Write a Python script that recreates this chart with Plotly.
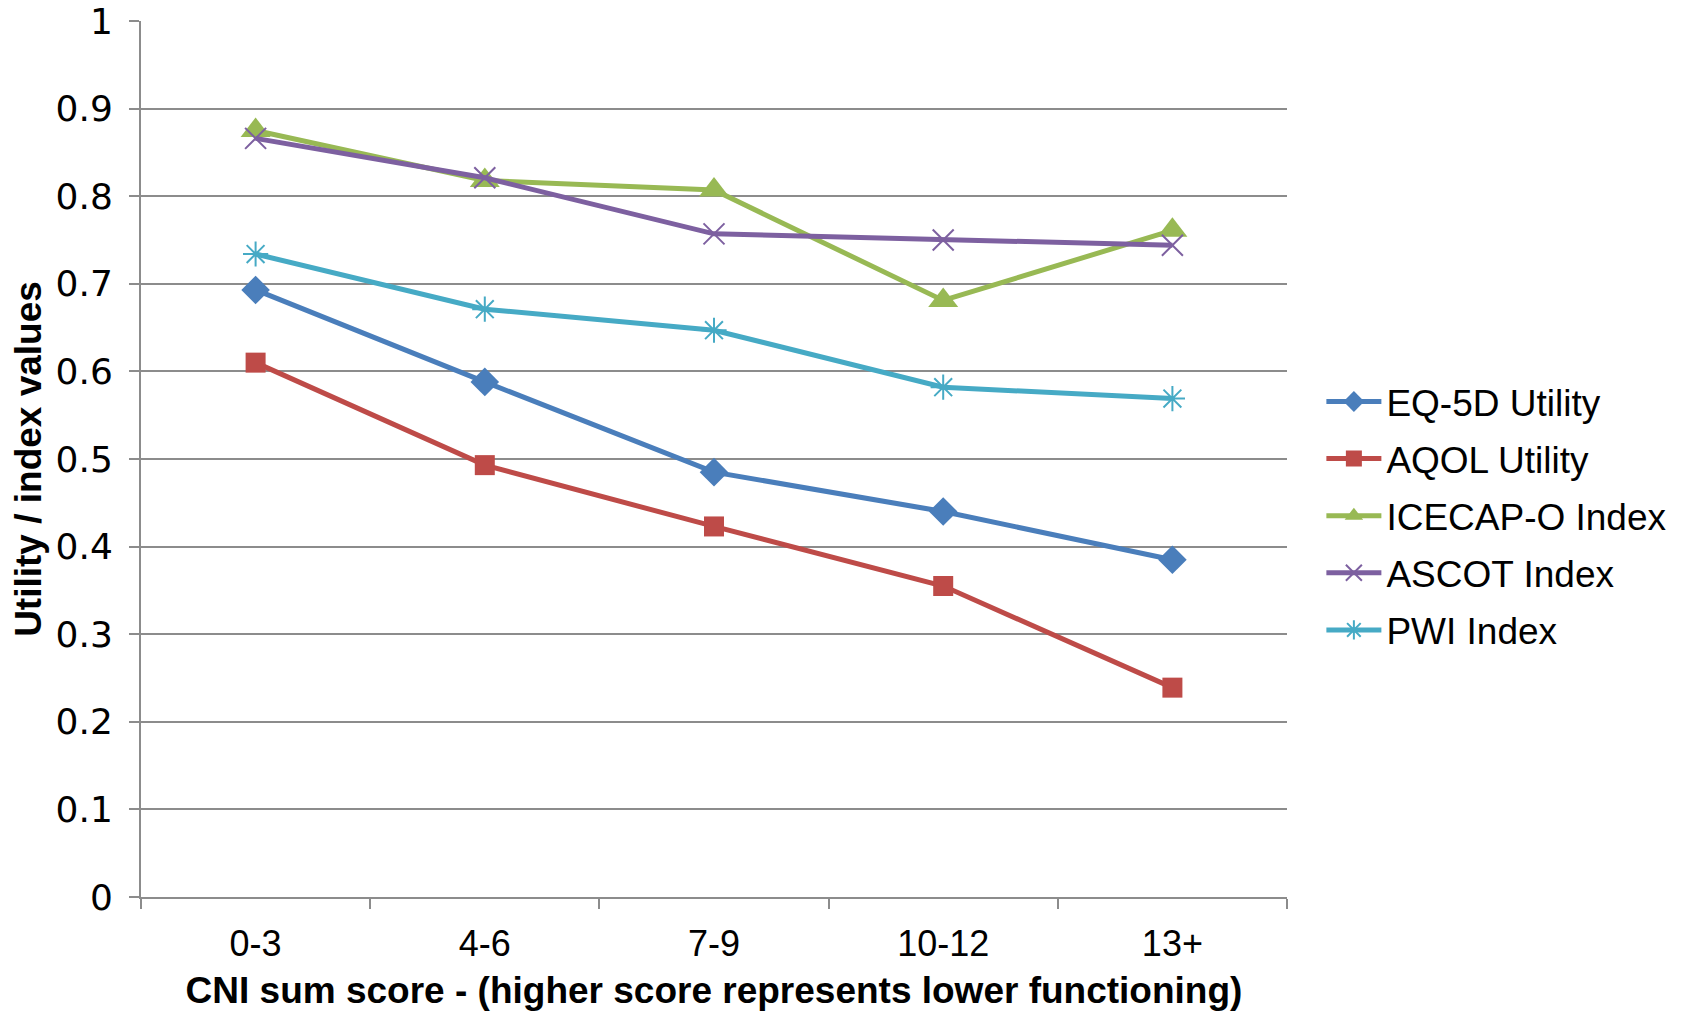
import plotly.graph_objects as go

categories = ["0-3", "4-6", "7-9", "10-12", "13+"]
eq5d = [0.693, 0.588, 0.485, 0.440, 0.385]
aqol = [0.610, 0.493, 0.423, 0.355, 0.239]
icecap = [0.875, 0.818, 0.807, 0.681, 0.761]
ascot = [0.866, 0.821, 0.757, 0.750, 0.744]
pwi = [0.734, 0.671, 0.647, 0.582, 0.569]
y_ticks = [0, 0.1, 0.2, 0.3, 0.4, 0.5, 0.6, 0.7, 0.8, 0.9, 1.0]
y_ticktext = ["0", "0.1", "0.2", "0.3", "0.4", "0.5", "0.6", "0.7", "0.8", "0.9", "1"]

series = [
    ("EQ-5D Utility", eq5d, "#4a7ebb", "diamond", 22, 0),
    ("AQOL Utility", aqol, "#be4b48", "square", 20, 0),
    ("ICECAP-O Index", icecap, "#98b954", "triangle-up", 26, 0),
    ("ASCOT Index", ascot, "#7d60a0", "x-thin-open", 21, 2),
    ("PWI Index", pwi, "#46aac5", "asterisk-open", 21, 2),
]

fig = go.Figure()
for i, (name, vals, color, sym, size, lw) in enumerate(series):
    fig.add_trace(go.Scatter(
        x=categories, y=vals, name=name, mode="lines+markers",
        legendgroup=f"g{i}",
        line=dict(color=color, width=5),
        marker=dict(symbol=sym, size=size, color=color,
                    line=dict(color=color, width=lw)),
    ))

grid = "#8c8c8c"
fig.update_layout(
    width=1684, height=1013,
    margin=dict(l=141, r=395, t=21, b=116),
    paper_bgcolor="white", plot_bgcolor="white",
    font=dict(family="Liberation Sans, Arial", color="black"),
    showlegend=True,
    legend=dict(
        x=1.030, y=0.435, xanchor="left", yanchor="middle",
        font=dict(size=37, family="Liberation Sans, Arial", color="black"),
        traceorder="grouped", tracegroupgap=6, itemwidth=55,
        bgcolor="rgba(0,0,0,0)",
    ),
    xaxis=dict(
        type="category", range=[-0.5, 4.5],
        showgrid=False, showline=True, linecolor=grid, linewidth=2,
        ticks="outside", tickson="boundaries", ticklen=10, tickcolor=grid, tickwidth=1.5,
        tickfont=dict(size=36, family="Liberation Sans, Arial", color="black"),
        ticklabelstandoff=14,
        title=dict(text="<b>CNI sum score - (higher score represents lower functioning)</b>",
                   font=dict(size=37, family="Liberation Sans, Arial", color="black"),
                   standoff=14),
        automargin=False,
    ),
    yaxis=dict(
        range=[0, 1], tickvals=y_ticks, ticktext=y_ticktext,
        showgrid=True, gridcolor=grid, gridwidth=1.5, zeroline=False,
        showline=True, linecolor=grid, linewidth=2,
        ticks="outside", ticklen=10, tickcolor=grid, tickwidth=1.5,
        tickfont=dict(size=36, family="DejaVu Sans", color="black"),
        ticklabelstandoff=9, ticklabeloverflow="allow",
        title=dict(text="<b>Utility / index values</b>",
                   font=dict(size=37, family="Liberation Sans, Arial", color="black"),
                   standoff=3),
        automargin=False,
    ),
)

fig.write_html("out.html", config={"displayModeBar": False},
               post_script="document.body.style.margin='0';")
